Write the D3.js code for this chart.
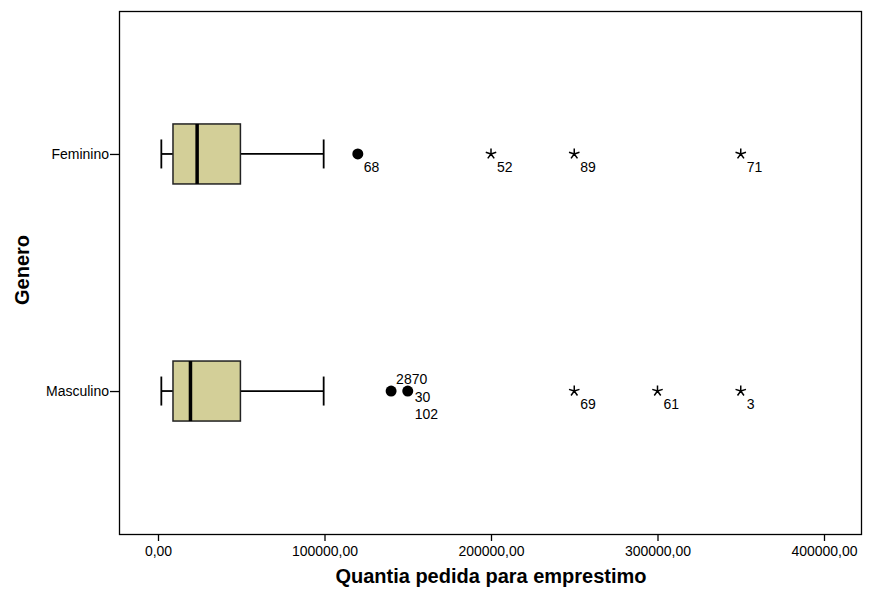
<!DOCTYPE html>
<html>
<head>
<meta charset="utf-8">
<script src="https://cdn.jsdelivr.net/npm/d3@7"></script>
<style>
  body { margin: 0; background: #fff; }
  text { font-family: "Liberation Sans", Arial, sans-serif; }
</style>
</head>
<body>
<div id="chart"></div>
<script>
// categories and box stats
const categories = ["Feminino", "Masculino"];
const whiskerLow = [2000, 2000];
const q1 = [9000, 9000];
const median = [23500, 19500];
const q3 = [49500, 49500];
const whiskerHigh = [99500, 99500];

// outliers: circles (mild) and stars (extreme)
const outlierGroup = ["Feminino", "Masculino", "Masculino"];
const outlierValue = [120000, 140000, 150000];
const extremeGroup = ["Feminino", "Feminino", "Feminino", "Masculino", "Masculino", "Masculino"];
const extremeValue = [200000, 250000, 350000, 250000, 300000, 350000];
const extremeLabel = ["52", "89", "71", "69", "61", "3"];

const xTicks = [0, 100000, 200000, 300000, 400000];

const width = 875, height = 589;
const margin = { left: 119, top: 11, right: 14, bottom: 55 };

const svg = d3.select("#chart").append("svg")
    .attr("width", width)
    .attr("height", height);

const x = d3.scaleLinear()
    .domain([0, 400000])
    .range([158, 824]);

const y = d3.scalePoint()
    .domain(categories)
    .range([margin.top, height - margin.bottom])
    .padding(0.603);

const boxH = 60, capH = 29;

// frame
svg.append("rect")
    .attr("x", margin.left + 0.5)
    .attr("y", margin.top + 0.5)
    .attr("width", width - margin.right - margin.left)
    .attr("height", height - margin.bottom - margin.top)
    .attr("fill", "none")
    .attr("stroke", "#000")
    .attr("stroke-width", 1.3);

// x axis
const xAxis = svg.append("g")
    .attr("transform", `translate(0,${height - margin.bottom})`)
    .call(d3.axisBottom(x).tickValues(xTicks).tickSize(7).tickPadding(5)
        .tickFormat(d => d3.format(".2f")(d).replace(".", ",")));
xAxis.select(".domain").remove();
xAxis.selectAll("line").attr("stroke", "#000").attr("stroke-width", 1.3);
xAxis.selectAll("text").attr("font-size", 14).attr("fill", "#000")
    .attr("font-family", "Liberation Sans, Arial, sans-serif");

// y axis
const yAxis = svg.append("g")
    .attr("transform", `translate(${margin.left},0)`)
    .call(d3.axisLeft(y).tickSize(9).tickPadding(1));
yAxis.select(".domain").remove();
yAxis.selectAll("line").attr("stroke", "#000").attr("stroke-width", 1.3);
yAxis.selectAll("text").attr("font-size", 14).attr("fill", "#000")
    .attr("font-family", "Liberation Sans, Arial, sans-serif");

// axis titles
svg.append("text")
    .attr("x", 491)
    .attr("y", 583)
    .attr("text-anchor", "middle")
    .attr("font-size", 20)
    .attr("font-weight", "bold")
    .text("Quantia pedida para emprestimo");

svg.append("text")
    .attr("transform", "translate(29,270) rotate(-90)")
    .attr("text-anchor", "middle")
    .attr("font-size", 20)
    .attr("font-weight", "bold")
    .text("Genero");

// boxes
const boxes = svg.append("g").selectAll("g")
    .data(categories)
    .enter().append("g");

boxes.append("line")
    .attr("x1", (d, i) => x(whiskerLow[i]))
    .attr("x2", (d, i) => x(q1[i]))
    .attr("y1", d => y(d)).attr("y2", d => y(d))
    .attr("stroke", "#000").attr("stroke-width", 1.8);
boxes.append("line")
    .attr("x1", (d, i) => x(q3[i]))
    .attr("x2", (d, i) => x(whiskerHigh[i]))
    .attr("y1", d => y(d)).attr("y2", d => y(d))
    .attr("stroke", "#000").attr("stroke-width", 1.8);
boxes.append("line")
    .attr("x1", (d, i) => x(whiskerLow[i])).attr("x2", (d, i) => x(whiskerLow[i]))
    .attr("y1", d => y(d) - capH / 2).attr("y2", d => y(d) + capH / 2)
    .attr("stroke", "#000").attr("stroke-width", 1.8);
boxes.append("line")
    .attr("x1", (d, i) => x(whiskerHigh[i])).attr("x2", (d, i) => x(whiskerHigh[i]))
    .attr("y1", d => y(d) - capH / 2).attr("y2", d => y(d) + capH / 2)
    .attr("stroke", "#000").attr("stroke-width", 1.8);

boxes.append("rect")
    .attr("x", (d, i) => x(q1[i]))
    .attr("width", (d, i) => x(q3[i]) - x(q1[i]))
    .attr("y", d => y(d) - boxH / 2)
    .attr("height", boxH)
    .attr("fill", "#d3cf98")
    .attr("stroke", "#222")
    .attr("stroke-width", 1.5);

boxes.append("line")
    .attr("x1", (d, i) => x(median[i])).attr("x2", (d, i) => x(median[i]))
    .attr("y1", d => y(d) - boxH / 2).attr("y2", d => y(d) + boxH / 2)
    .attr("stroke", "#000").attr("stroke-width", 3.5);

// mild outliers
svg.append("g").selectAll("circle")
    .data(outlierValue)
    .enter().append("circle")
    .attr("cx", d => x(d))
    .attr("cy", (d, i) => y(outlierGroup[i]))
    .attr("r", 5.5)
    .attr("fill", "#000");

// outlier case labels
const labelFont = 14;
svg.append("text").attr("x", x(outlierValue[0]) + 6).attr("y", y("Feminino") + 18)
    .attr("font-size", labelFont).text("68");
svg.append("text").attr("x", x(outlierValue[1]) + 5).attr("y", y("Masculino") - 7)
    .attr("font-size", labelFont).text("2870");
svg.append("text").attr("x", x(outlierValue[2]) + 7).attr("y", y("Masculino") + 11)
    .attr("font-size", labelFont).text("30");
svg.append("text").attr("x", x(outlierValue[2]) + 7).attr("y", y("Masculino") + 28)
    .attr("font-size", labelFont).text("102");

// extreme values: five-spoke asterisk
function starPath(r) {
    let p = "";
    for (let k = 0; k < 5; k++) {
        const a = -Math.PI / 2 + k * 2 * Math.PI / 5;
        p += `M0,0L${(r * Math.cos(a)).toFixed(2)},${(r * Math.sin(a)).toFixed(2)}`;
    }
    return p;
}

const stars = svg.append("g").selectAll("g")
    .data(extremeValue)
    .enter().append("g")
    .attr("transform", (d, i) => `translate(${x(d)},${y(extremeGroup[i])})`);

stars.append("path")
    .attr("d", starPath(5.5))
    .attr("stroke", "#000")
    .attr("stroke-width", 1.5)
    .attr("fill", "none");

stars.append("text")
    .attr("x", 6)
    .attr("y", 18)
    .attr("font-size", labelFont)
    .text((d, i) => extremeLabel[i]);
</script>
</body>
</html>
